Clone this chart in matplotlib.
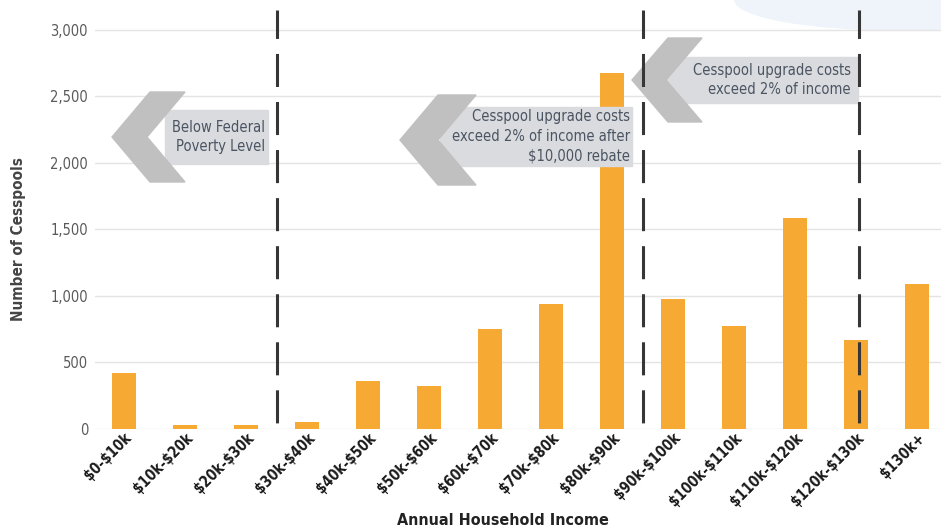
import matplotlib.pyplot as plt
from matplotlib.patches import Polygon, Rectangle, Ellipse
from matplotlib.transforms import ScaledTranslation

# data
income_bins = ["$0-$10k", "$10k-$20k", "$20k-$30k", "$30k-$40k", "$40k-$50k",
               "$50k-$60k", "$60k-$70k", "$70k-$80k", "$80k-$90k", "$90k-$100k",
               "$100k-$110k", "$110k-$120k", "$120k-$130k", "$130k+"]
cesspools = [421, 30, 30, 53, 361, 323, 752, 940, 2677, 977, 774, 1586, 669, 1090]
y_ticks = [0, 500, 1000, 1500, 2000, 2500, 3000]
threshold_x = [2.5, 8.5, 12.05]

W, H = 941, 529
NARROW = ["Liberation Sans Narrow", "DejaVu Sans"]
plt.rcParams["text.parse_math"] = False
plt.rcParams["lines.scale_dashes"] = False


def px(x, y):
    # pixel position (from top-left) -> figure fraction
    return (x / W, 1 - y / H)


fig = plt.figure(figsize=(W / 100, H / 100), dpi=100)
ax = fig.add_axes([95 / W, 100 / H, 846 / W, 419 / H])

# faint blue wash top-right, as in the scan
ax.add_patch(Ellipse(px(900, 0), 330 / W, 60 / H, transform=fig.transFigure,
                     color="#eef4fa", zorder=0, clip_on=False))

x = list(range(len(income_bins)))
ax.bar(x, cesspools, width=0.4, color="#f6a933", zorder=2)

ax.set_xlim(-0.475, 13.39)
ax.set_ylim(0, 3150)
ax.set_yticks(y_ticks)
ax.set_yticklabels([f"{v:,}" for v in y_ticks], family=NARROW, stretch="condensed",
                   fontsize=10.5, color="#5a5a5a")
ax.set_xticks(x)
ax.set_xticklabels(income_bins, rotation=45, ha="right", rotation_mode="anchor",
                   family=NARROW, stretch="condensed", fontsize=10.5, fontweight="bold",
                   color="#1a1a1a")
shift = ScaledTranslation(5 / 100, 0, fig.dpi_scale_trans)
for lbl in ax.get_xticklabels():
    lbl.set_transform(lbl.get_transform() + shift)
ax.tick_params(axis="both", length=0)
ax.tick_params(axis="y", pad=5)
ax.tick_params(axis="x", pad=1)
for s in ax.spines.values():
    s.set_visible(False)
ax.grid(axis="y", color="#e4e4e4", linewidth=1, zorder=0)
ax.set_axisbelow(True)

ax.set_ylabel("Number of Cesspools", family=NARROW, stretch="condensed", fontsize=11,
              fontweight="bold", color="#444444")
ax.yaxis.set_label_coords(-0.082, 0.453)
ax.set_xlabel("Annual Household Income", family=NARROW, stretch="condensed", fontsize=11.5,
              fontweight="bold", color="#222222")
ax.xaxis.set_label_coords(0.482, -0.2)

# dashes: 33 px on, 15 px off, starting 6 px above the baseline
for tx in threshold_x:
    ax.axvline(tx, color="#363636", linewidth=2.2,
               linestyle=(30.2, (23.8, 10.8)), zorder=6)


def callout(tip_x, mid_y, half_h, depth, thick, box, text, text_x, zorder=3):
    bx0, by0, bx1, by1 = box
    ax.add_patch(Rectangle(px(bx0, by1), (bx1 - bx0) / W, (by1 - by0) / H,
                           transform=fig.transFigure, color="#dadbde",
                           zorder=zorder, clip_on=False))
    pts = [(tip_x, mid_y), (tip_x + depth, mid_y - half_h),
           (tip_x + depth + thick, mid_y - half_h), (tip_x + thick, mid_y),
           (tip_x + depth + thick, mid_y + half_h), (tip_x + depth, mid_y + half_h)]
    ax.add_patch(Polygon([px(*p) for p in pts], closed=True, transform=fig.transFigure,
                         color="#c1c0c0", zorder=zorder, clip_on=False))
    tx, ty = px(text_x, (by0 + by1) / 2)
    ax.text(tx, ty, text, transform=fig.transFigure, ha="right", va="center",
            family=NARROW, stretch="condensed", fontsize=10.5, color="#4a5462",
            linespacing=1.4, zorder=zorder + 0.5)


callout(112, 137, 45, 38, 35, (165, 110, 268, 164),
        "Below Federal\nPoverty Level", 265)
callout(400, 140, 45, 38, 38, (440, 107, 632, 166),
        "Cesspool upgrade costs\nexceed 2% of income after\n$10,000 rebate", 630)
callout(632, 80, 42, 36, 34, (655, 57, 858, 103),
        "Cesspool upgrade costs\nexceed 2% of income", 851)

fig.savefig("out.png", dpi=100)
